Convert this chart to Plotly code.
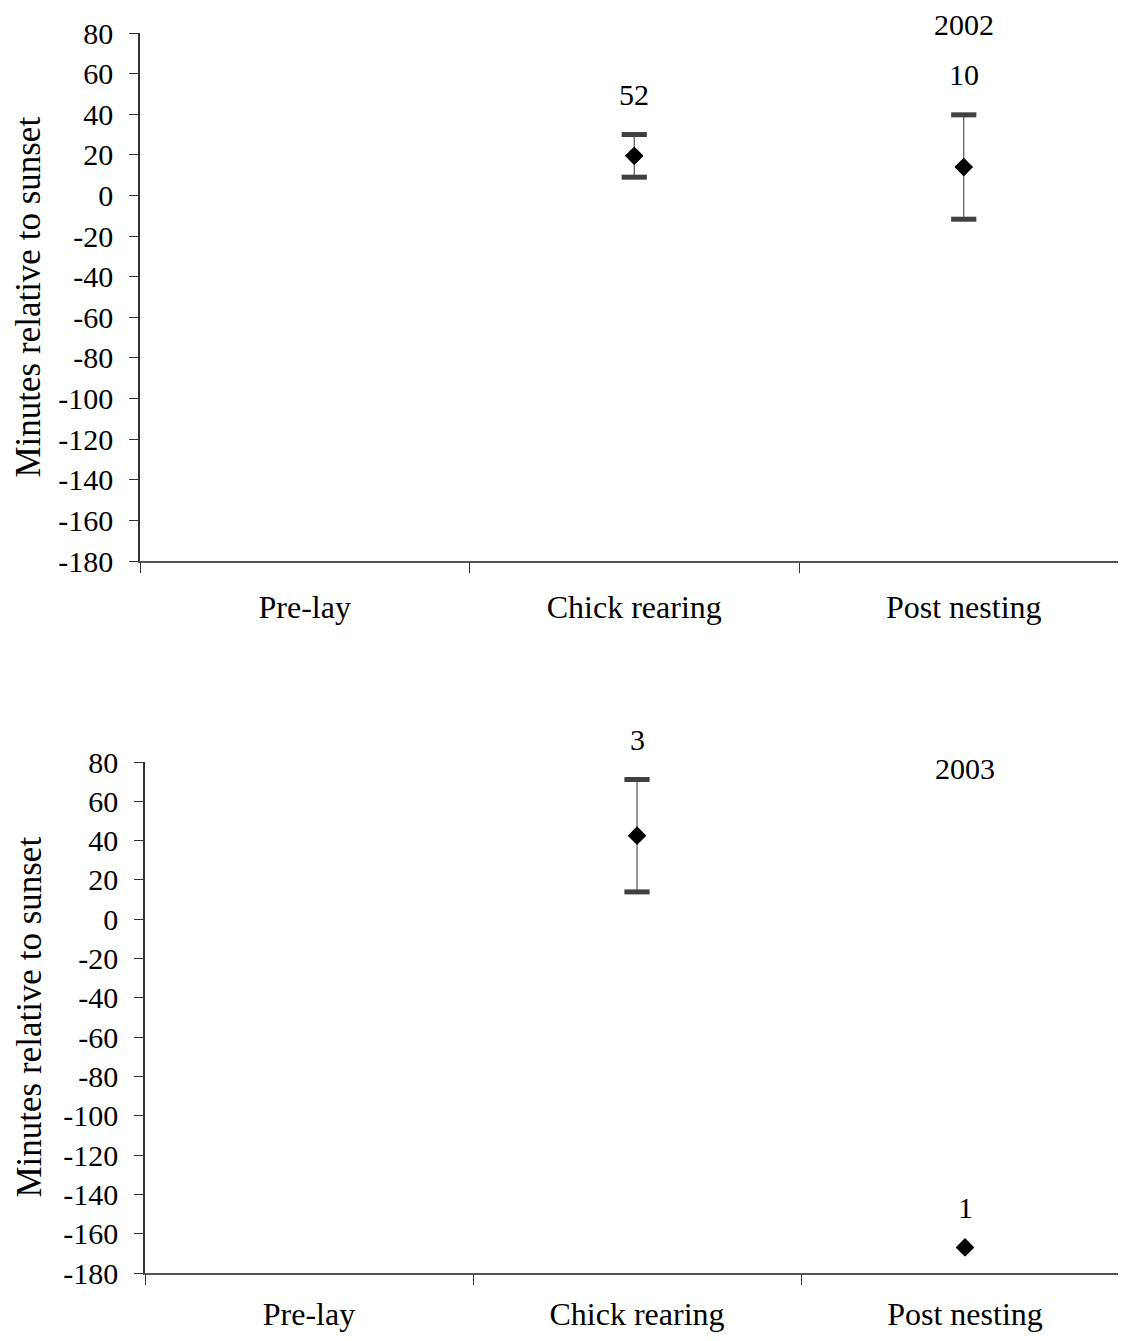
import plotly.graph_objects as go

# ---------------- data ----------------
stages = ["Pre-lay", "Chick rearing", "Post nesting"]

mean_2002 = [None, 19.5, 14.0]
err_2002 = [None, 10.5, 25.7]
n_2002 = ["", "52", "10"]

mean_2003 = [None, 42.5, -167.0]
err_2003 = [None, 28.6, 0.0]
n_2003 = ["", "3", "1"]

y_ticks = list(range(-180, 81, 20))
y_ticktext = [str(v) for v in y_ticks]
years = ["2002", "2003"]

FONT = "Liberation Serif"

# page is rendered with an 8px body margin -> work in figure pixels
W, H = 1110, 1325
OFF = 8


def px_x(p):
    return (p - OFF) / W


def px_y(p):
    return 1 - (p - OFF) / H


fig = go.Figure()

panels = [
    (mean_2002, err_2002, n_2002, "x", "y", years[0], 25),
    (mean_2003, err_2003, n_2003, "x2", "y2", years[1], 768),
]

annotations = []
for means, errs, labels, xa, ya, yr, yr_py in panels:
    fig.add_trace(go.Scatter(
        x=stages, y=means, mode="markers",
        marker=dict(symbol="diamond", size=14, color="black"),
        error_y=dict(type="data", array=[e if e else 0 for e in errs],
                     visible=True, thickness=1.2, width=0, color="#555555"),
        xaxis=xa, yaxis=ya, showlegend=False, cliponaxis=False,
    ))
    cx, cy = [], []
    for s, m, e in zip(stages, means, errs):
        if m is not None and e:
            cx += [s, s]
            cy += [m + e, m - e]
    fig.add_trace(go.Scatter(
        x=cx, y=cy, mode="markers",
        marker=dict(symbol="line-ew", size=18,
                    line=dict(width=5, color="#404040")),
        xaxis=xa, yaxis=ya, showlegend=False, cliponaxis=False,
    ))
    fig.add_trace(go.Scatter(
        x=stages, y=means, mode="markers",
        marker=dict(symbol="diamond", size=14, color="black"),
        xaxis=xa, yaxis=ya, showlegend=False, cliponaxis=False,
    ))
    for s, m, e, t in zip(stages, means, errs, labels):
        if m is None:
            continue
        annotations.append(dict(
            x=s, y=m + (e or 0), xref=xa, yref=ya, text=t, showarrow=False,
            yshift=40, font=dict(family=FONT, size=30, color="black"),
        ))
    annotations.append(dict(
        x="Post nesting", y=px_y(yr_py), xref=xa, yref="paper", text=yr,
        showarrow=False, yanchor="middle",
        font=dict(family=FONT, size=30, color="black"),
    ))

for ycen in [297, 1017]:
    annotations.append(dict(
        x=0, y=px_y(ycen), xref="paper", yref="paper",
        text="Minutes relative to sunset", textangle=-90, showarrow=False,
        xanchor="left", yanchor="middle", borderpad=0,
        font=dict(family=FONT, size=35, color="black"),
    ))

xcommon = dict(
    type="category", categoryorder="array", categoryarray=stages,
    tickson="boundaries", ticks="outside", ticklen=10,
    tickcolor="#333333", showline=True, linecolor="#555555", linewidth=1.5,
    showgrid=False, zeroline=False, automargin=False,
    tickfont=dict(family=FONT, size=32, color="black"),
)
ycommon = dict(
    range=[-180, 80], tickvals=y_ticks, ticktext=y_ticktext, ticks="outside",
    ticklen=9, tickcolor="#333333", showline=True, linecolor="#333333",
    linewidth=1.5, showgrid=False, zeroline=False, ticklabelstandoff=10,
    automargin=False, tickfont=dict(family=FONT, size=30, color="black"),
)

# top panel: axis at page x 140, category width 329.5 px
top_left, top_cw = 140, 329.5
bot_left, bot_cw = 145, 328.0
top_end = -0.5 + (OFF + W - top_left) / top_cw
bot_end = -0.5 + (OFF + W - bot_left) / bot_cw

fig.update_layout(
    width=W, height=H,
    margin=dict(l=0, r=0, t=0, b=0, autoexpand=False),
    paper_bgcolor="white", plot_bgcolor="white",
    xaxis=dict(domain=[px_x(top_left), 1], anchor="y",
               range=[-0.5, top_end], ticklabelstandoff=17, **xcommon),
    yaxis=dict(domain=[px_y(561), px_y(33)], anchor="x", **ycommon),
    xaxis2=dict(domain=[px_x(bot_left), 1], anchor="y2",
                range=[-0.5, bot_end], ticklabelstandoff=12, **xcommon),
    yaxis2=dict(domain=[px_y(1273), px_y(762)], anchor="x2", **ycommon),
    annotations=annotations,
    showlegend=False,
)

fig.write_html("out.html")
